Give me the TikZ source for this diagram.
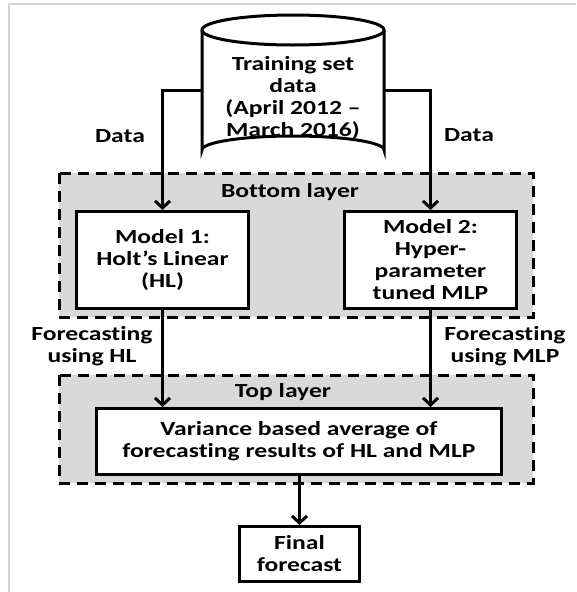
\documentclass[tikz,border=0pt]{standalone}
\usepackage{fontspec}
\setmainfont{Carlito}[FakeStretch=1.28, Ligatures={NoCommon}]
\usetikzlibrary{arrows.meta}
\definecolor{layergrey}{HTML}{D9D9D9}
\definecolor{framegrey}{HTML}{D4D4D4}
\begin{document}
\begin{tikzpicture}[x=1pt,y=-1pt,
  lbl/.style={font=\fontsize{20}{22}\selectfont\bfseries, align=center, inner sep=0pt},
  boxnode/.style={draw=black, line width=3pt, fill=white, anchor=north west, inner sep=0pt},
  layer/.style={draw=black, fill=layergrey, line width=3pt, dash pattern=on 11pt off 7pt},
  conn/.style={line width=3pt, -{Straight Barb[length=7pt,width=15pt,line width=3pt]}},
  plain/.style={line width=3pt}]
\useasboundingbox (0,0) rectangle (576,592);
\fill[white] (0,0) rectangle (576,592);
% frame
\draw[framegrey, line width=2pt] (9,592) -- (9,4) -- (576,4);
% layers
\draw[layer] (59,173) rectangle (533,317);
\draw[layer] (59,375) rectangle (533,483);
\node[lbl] (bl) at (290,192) {Bottom layer};
\node[lbl] (tl) at (283,392) {Top layer};
% cylinder
\draw[plain, fill=white] (202,30) -- (202,150) arc[start angle=180, end angle=360, x radius=91, y radius=14] -- (384,30);
\draw[plain, fill=white] (293,30) ellipse[x radius=91, y radius=15];
\node[lbl, minimum width=182pt, minimum height=120pt] (db) at (293,90) {};
\node[lbl] (dbt) at (293,98) {Training set\\data\\(April 2012 --\\March 2016)};
% boxes
\node[boxnode, minimum width=172pt, minimum height=97pt] (m1) at (75,210) {};
\node[lbl] at (m1.center) {Model 1:\\Holt’s Linear\\(HL)};
\node[boxnode, minimum width=172pt, minimum height=97pt] (m2) at (343,210) {};
\node[lbl] at (m2.center) {Model 2:\\Hyper-\\parameter\\tuned MLP};
\node[boxnode, minimum width=405pt, minimum height=66pt] (var) at (95,407) {};
\node[lbl] at (var.center) {Variance based average of\\forecasting results of HL and MLP};
\node[boxnode, minimum width=120pt, minimum height=55pt] (fin) at (238,525) {};
\node[lbl] at (fin.center) {Final\\forecast};
% labels
\node[lbl] (d1) at (120,136) {Data};
\node[lbl] (d2) at (469,135) {Data};
\node[lbl] (f1) at (92,346) {Forecasting\\using HL};
\node[lbl] (f2) at (505,346) {Forecasting\\using MLP};
% connectors
\draw[conn] (db.west) -| (m1.north);
\draw[conn] (db.east) -| (m2.north);
\draw[conn] (m1.south) -- (m1.south |- var.north);
\draw[conn] (m2.south) -- (m2.south |- var.north);
\draw[conn] (var.south -| fin.north) -- (fin.north);
\end{tikzpicture}
\end{document}
